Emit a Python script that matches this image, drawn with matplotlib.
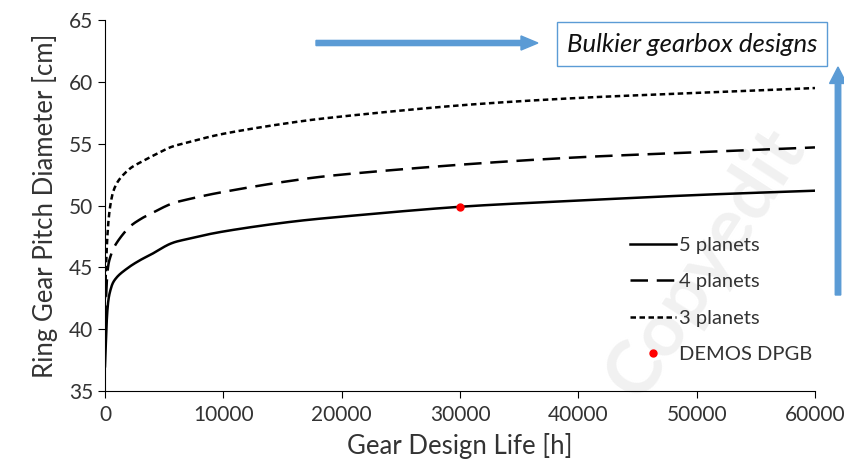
import numpy as np
import matplotlib.pyplot as plt
from matplotlib.patches import FancyArrow

# gear design life [h]
life = [0, 200, 500, 1000, 2000, 3000, 4000, 5500, 7000, 10000, 15000, 20000, 30000, 40000, 50000, 60000]
# ring gear pitch diameter [cm]
d_5 = [37.0, 41.5, 43.3, 44.2, 45.0, 45.6, 46.1, 46.9, 47.3, 47.9, 48.6, 49.1, 49.9, 50.4, 50.85, 51.2]
d_4 = [40.5, 44.5, 46.0, 47.0, 48.2, 48.9, 49.4, 50.1, 50.5, 51.1, 51.9, 52.5, 53.3, 53.9, 54.3, 54.7]
d_3 = [42.5, 47.5, 50.3, 51.8, 52.9, 53.5, 54.0, 54.7, 55.1, 55.8, 56.6, 57.2, 58.1, 58.7, 59.1, 59.5]
demos_life = [30000]
demos_d = [49.9]

labels = ['5 planets', '4 planets', '3 planets', 'DEMOS DPGB']
blue = '#5B9BD5'

plt.rcParams['font.family'] = ['Lato', 'DejaVu Sans']


def smooth(x, y, n=20):
    # Catmull-Rom through the points, like Excel's smoothed line
    x = np.asarray(x, float)
    y = np.asarray(y, float)
    px = np.concatenate([[2 * x[0] - x[1]], x, [2 * x[-1] - x[-2]]])
    py = np.concatenate([[2 * y[0] - y[1]], y, [2 * y[-1] - y[-2]]])
    xs, ys = [], []
    t = np.linspace(0, 1, n, endpoint=False)
    for i in range(1, len(px) - 2):
        for p, out in ((px, xs), (py, ys)):
            p0, p1, p2, p3 = p[i - 1], p[i], p[i + 1], p[i + 2]
            out.extend(0.5 * (2 * p1 + (-p0 + p2) * t
                              + (2 * p0 - 5 * p1 + 4 * p2 - p3) * t ** 2
                              + (-p0 + 3 * p1 - 3 * p2 + p3) * t ** 3))
    xs.append(x[-1])
    ys.append(y[-1])
    return np.array(xs), np.array(ys)


fig = plt.figure(figsize=(8.44, 4.70), dpi=100)

# watermark, behind everything
fig.text(0.835, 0.44, 'Copyedit', fontsize=54, color='#f1f1f1', rotation=57,
         ha='center', va='center', fontweight='bold', zorder=-1)

ax = fig.add_axes([0.1244, 0.168, 0.8412, 0.7894])
ax.patch.set_alpha(0)

ax.plot(*smooth(life, d_5), color='black', lw=1.8, label=labels[0])
ax.plot(*smooth(life, d_4), color='black', lw=1.8, dashes=(7, 3.5), label=labels[1])
ax.plot(*smooth(life, d_3), color='black', lw=1.8, dashes=(2.2, 1.4), label=labels[2])
ax.plot(demos_life, demos_d, 'o', color='red', ms=5, label=labels[3], zorder=5)

ax.set_xlim(0, 60000)
ax.set_ylim(35, 65)
ax.set_xticks(np.arange(0, 60001, 10000))
ax.set_yticks(np.arange(35, 66, 5))
ax.spines['top'].set_visible(False)
ax.spines['right'].set_visible(False)
ax.tick_params(labelsize=15, length=5, color='black', labelcolor='#333333')
ax.tick_params(axis='x', pad=5)
ax.set_xlabel('Gear Design Life [h]', fontsize=18.5, color='#333333', labelpad=6)
ax.set_ylabel('Ring Gear Pitch Diameter [cm]', fontsize=18.5, color='#333333', labelpad=8)

ax.legend(loc='upper left', bbox_to_anchor=(0.739, 0.415), frameon=False,
          borderpad=0, borderaxespad=0,
          fontsize=14.5, handlelength=2.3, handletextpad=0.15, labelspacing=0.95,
          labelcolor='#333333')

# arrows and annotation
fig.patches.append(FancyArrow(
    316 / 844, 1 - 43 / 470, 205 / 844, 0, width=0.011, head_width=0.03,
    head_length=0.02, length_includes_head=False, color=blue,
    transform=fig.transFigure, figure=fig))
fig.patches.append(FancyArrow(
    838 / 844, 1 - 295 / 470, 0, 228 / 470, width=0.0065, head_width=0.02,
    head_length=0.035, length_includes_head=True, color=blue,
    transform=fig.transFigure, figure=fig))
fig.text(692 / 844, 1 - 44 / 470, 'Bulkier gearbox designs', fontsize=18.5,
         style='italic', ha='center', va='center', color='#111111',
         bbox=dict(boxstyle='square,pad=0.4', fc='white', ec=blue, lw=1))

fig.savefig('out.png', dpi=100)
